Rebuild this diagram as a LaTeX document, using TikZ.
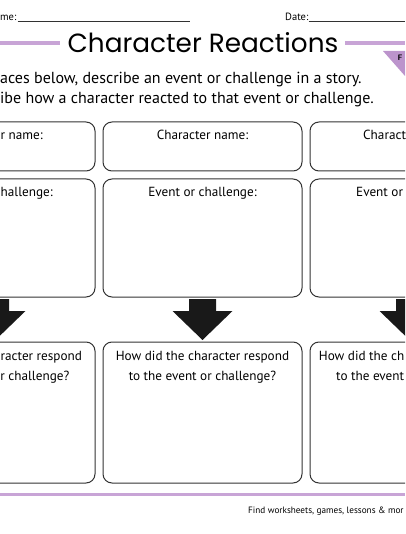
\documentclass[tikz,border=0pt]{standalone}
\usepackage{fontspec}
\setmainfont{PT Sans}
\newfontfamily\titlefont{Poppins}
\definecolor{lilac}{RGB}{200,164,214}
\definecolor{lilacdark}{RGB}{188,148,204}
\definecolor{boxline}{RGB}{50,50,50}
\definecolor{arrowfill}{RGB}{25,25,25}
\begin{document}
\begin{tikzpicture}[x=1pt,y=-1pt,
  cell/.style={draw=boxline,line width=1pt,rounded corners=9pt},
  lab/.style={font=\fontsize{13.2}{15}\selectfont,inner sep=0pt,anchor=base},
  instr/.style={font=\fontsize{16}{18}\selectfont,inner sep=0pt,anchor=base west},
  small/.style={font=\fontsize{10.5}{12}\selectfont,inner sep=0pt},
  band/.style={draw=lilac,line width=3.5pt},
  bigarrow/.style={fill=arrowfill,draw=none}]
\useasboundingbox (0,0) rectangle (405,534);
\clip (0,0) rectangle (405,534);
% header
\node[small,anchor=base west] (nm) at (0,20.5) {me:};
\coordinate (nmEnd) at (190,21);
\draw[line width=0.8pt,boxline] (nm.base east) ++(1,0.5) -- (nmEnd);
\node[small,anchor=base west] (dt) at (285,20.5) {Date:};
\coordinate (dtEnd) at (405,21);
\draw[line width=0.8pt,boxline] (dt.base east) ++(0,0.5) -- (dtEnd);
% title with bands
\node[font=\titlefont\fontsize{26.3}{30}\selectfont,inner sep=0pt,anchor=base] (title) at (203,53) {Character Reactions};
\coordinate (bandL) at (0,43);
\coordinate (bandLe) at (60,43);
\coordinate (bandR) at (345,43);
\coordinate (bandRe) at (405,43);
\draw[band] (bandL) -- (bandLe);
\draw[band] (bandR) -- (bandRe);
\fill[lilacdark] (383,51) -- (405,51) -- (405,76) -- cycle;
\node[font=\sffamily\bfseries\fontsize{8}{9}\selectfont,inner sep=0pt,text=black] (tag) at (400,57.5) {F};
% instructions
\node[instr] (i1) at (0,84) {aces below, describe an event or challenge in a story.};
\node[instr] (i2) at (0,104) {ibe how a character reacted to that event or challenge.};
% boxes
\foreach \c/\n in {-4.5/L,202.5/M,409.5/R}{
  \draw[cell] (\c-99.5,122) rectangle (\c+99.5,171);
  \draw[cell] (\c-99.5,179) rectangle (\c+99.5,297);
  \draw[cell] (\c-99.5,342) rectangle (\c+99.5,483);
  \fill[bigarrow] (\c-13.5,299) -- (\c+13.5,299) -- (\c+13.5,311) -- (\c+30,311)
     -- (\c,340) -- (\c-30,311) -- (\c-13.5,311) -- cycle;
}
% middle column labels
\node[lab] (mA) at (202.5,139.5) {Character name:};
\node[lab] (mB) at (202.5,196.5) {Event or challenge:};
\node[lab] (mC) at (202.5,360) {How did the character respond};
\node[lab] (mD) at (202.5,380) {to the event or challenge?};
% left column (cut)
\node[lab,anchor=base east] (lA) at (43,139.5) {r name:};
\node[lab,anchor=base west] (lB) at (0.5,196.5) {hallenge:};
\node[lab,anchor=base west] (lC) at (0.5,360) {racter respond};
\node[lab,anchor=base east] (lD) at (69.5,380) {r challenge?};
% right column (cut)
\node[lab,anchor=base west] (rA) at (363,139.5) {Charact};
\node[lab,anchor=base west] (rB) at (356,196.5) {Event or};
\node[lab,anchor=base east] (rC) at (404.5,360) {How did the ch};
\node[lab,anchor=base west] (rD) at (336,380) {to the event};
% footer
\coordinate (footL) at (0,494);
\coordinate (footR) at (405,494);
\draw[band,line width=3pt] (footL) -- (footR);
\node[font=\fontsize{9.2}{10}\selectfont,inner sep=0pt,anchor=base west] (foot) at (248,513) {Find worksheets, games, lessons \& mor};
\end{tikzpicture}
\end{document}
